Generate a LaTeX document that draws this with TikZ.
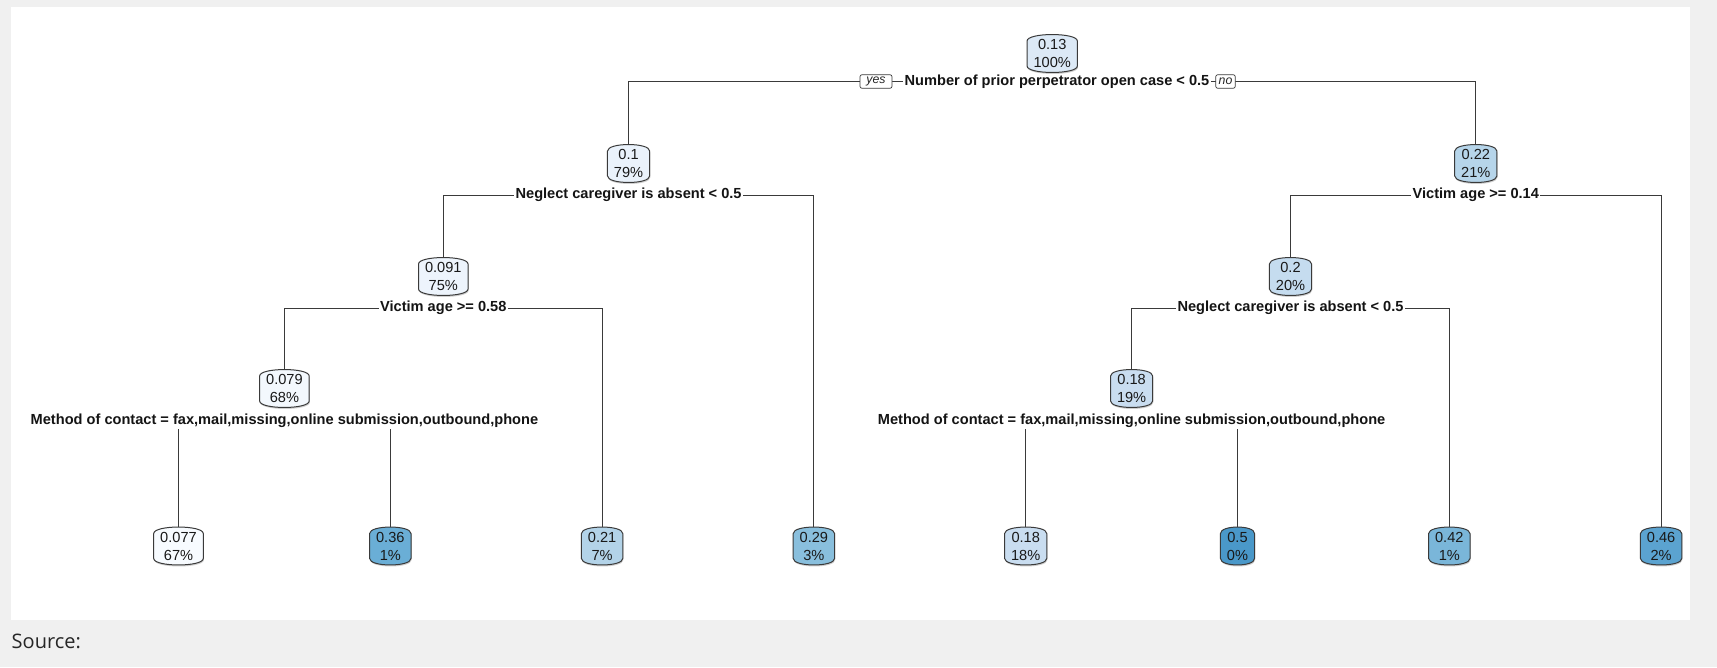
\documentclass[tikz,border=0pt]{standalone}
\usepackage{fontspec}
\setmainfont{Liberation Sans}
\newfontfamily\captionfont{Open Sans}
\usetikzlibrary{calc}

\pgfdeclarelayer{panel}
\pgfdeclarelayer{branches}
\pgfdeclarelayer{boxes}
\pgfsetlayers{panel,branches,boxes,main}

\definecolor{pagegray}{HTML}{F0F0F0}
\definecolor{edge}{HTML}{3A3A3A}
\definecolor{shadowgray}{HTML}{CFCFCF}
% fill colours of the tree boxes (Blues palette)
\definecolor{r1}{HTML}{DCE9F6}
\definecolor{r2}{HTML}{EAF2FB}
\definecolor{r3}{HTML}{B6D5EA}
\definecolor{r4}{HTML}{EDF4FC}
\definecolor{r5}{HTML}{C5DCEF}
\definecolor{r6}{HTML}{F3F8FD}
\definecolor{r7}{HTML}{C9DDF0}
\definecolor{c1}{HTML}{F7FBFF}
\definecolor{c2}{HTML}{6AAED6}
\definecolor{c3}{HTML}{B3D3E8}
\definecolor{c4}{HTML}{89BFDD}
\definecolor{c5}{HTML}{C9DDF0}
\definecolor{c6}{HTML}{4A98C9}
\definecolor{c7}{HTML}{7AB6D9}
\definecolor{c8}{HTML}{5BA3D0}

\tikzset{
  boxtxt/.style={inner xsep=6.3pt, inner ysep=0pt, minimum height=34.5pt,
    align=center, font=\fontsize{14.6}{18}\selectfont, text=black!90},
  splitlab/.style={fill=white, inner xsep=1.5pt, inner ysep=1pt,
    font=\fontsize{14.6}{17}\selectfont\bfseries, text=black!92},
  yesno/.style={draw=edge, fill=white, rounded corners=2pt, line width=0.7pt,
    inner xsep=0pt, inner ysep=0pt, minimum height=13.5pt,
    font=\fontsize{12.3}{13}\selectfont\itshape, text=black!85},
  branch/.style={draw=edge, line width=1pt},
  boxedge/.style={draw=edge, line width=1pt},
}

% barrel-shaped box: text node plus its outline, fill and soft shadow
\newcommand\treebox[5]{%
  \node[boxtxt] (#1) at (#2,#3) {#5};
  \begin{pgfonlayer}{boxes}
    \fill[shadowgray]
      ($(#1.north west)+(0.6,6.5)$) .. controls ($(#1.north west)+(0.6,-2.2)$) and ($(#1.north east)+(0.6,-2.2)$) .. ($(#1.north east)+(0.6,6.5)$)
      -- ($(#1.south east)+(0.6,-3.5)$) .. controls ($(#1.south east)+(0.6,5.2)$) and ($(#1.south west)+(0.6,5.2)$) .. ($(#1.south west)+(0.6,-3.5)$) -- cycle;
    \draw[boxedge, fill=#4]
      ($(#1.north west)+(0,5)$) .. controls ($(#1.north west)+(0,-3.7)$) and ($(#1.north east)+(0,-3.7)$) .. ($(#1.north east)+(0,5)$)
      -- ($(#1.south east)+(0,-5)$) .. controls ($(#1.south east)+(0,3.7)$) and ($(#1.south west)+(0,3.7)$) .. ($(#1.south west)+(0,-5)$) -- cycle;
  \end{pgfonlayer}}

\begin{document}
\begin{tikzpicture}[x=1pt, y=-1pt]
\useasboundingbox (0,0) rectangle (1717,667);

\begin{pgfonlayer}{panel}
  \fill[pagegray] (0,0) rectangle (1717,667);
  \fill[white] (11,7) rectangle (1690,620);
\end{pgfonlayer}

% inner nodes
\treebox{n1}{1052.2}{53.5}{r1}{0.13\\100\%}
\treebox{n2}{628.6}{163.5}{r2}{0.1\\79\%}
\treebox{n3}{1475.8}{163.5}{r3}{0.22\\21\%}
\treebox{n4}{443.3}{276.5}{r4}{0.091\\75\%}
\treebox{n5}{1290.5}{276.5}{r5}{0.2\\20\%}
\treebox{n6}{284.4}{388.5}{r6}{0.079\\68\%}
\treebox{n7}{1131.6}{388.5}{r7}{0.18\\19\%}

% leaves
\treebox{l1}{178.5}{546}{c1}{0.077\\67\%}
\treebox{l2}{390.3}{546}{c2}{0.36\\1\%}
\treebox{l3}{602.1}{546}{c3}{0.21\\7\%}
\treebox{l4}{813.9}{546}{c4}{0.29\\3\%}
\treebox{l5}{1025.7}{546}{c5}{0.18\\18\%}
\treebox{l6}{1237.5}{546}{c6}{0.5\\0\%}
\treebox{l7}{1449.3}{546}{c7}{0.42\\1\%}
\treebox{l8}{1661.1}{546}{c8}{0.46\\2\%}

% split rules
\node[splitlab] (s1) at (1057,81.5) {Number of prior perpetrator open case < 0.5};
\node[splitlab] (s2) at (628.6,195) {Neglect caregiver is absent < 0.5};
\node[splitlab] (s3) at (1475.8,195) {Victim age >= 0.14};
\node[splitlab] (s4) at (443.3,308) {Victim age >= 0.58};
\node[splitlab] (s5) at (1290.5,308) {Neglect caregiver is absent < 0.5};
\node[splitlab] (s6) at (284.4,421) {Method of contact = fax,mail,missing,online submission,outbound,phone};
\node[splitlab] (s7) at (1131.6,421) {Method of contact = fax,mail,missing,online submission,outbound,phone};

\node[yesno, minimum width=32pt] (yes) at (876,81.5) {yes};
\node[yesno, minimum width=19.5pt] (no) at (1225.5,81.5) {no};

% branches
\begin{pgfonlayer}{branches}
  \draw[branch] (s1.center) -| (n2.north);
  \draw[branch] (s1.center) -| (n3.north);
  \draw[branch] (s2.center) -| (n4.north);
  \draw[branch] (s2.center) -| (l4.north);
  \draw[branch] (s3.center) -| (n5.north);
  \draw[branch] (s3.center) -| (l8.north);
  \draw[branch] (s4.center) -| (n6.north);
  \draw[branch] (s4.center) -| (l3.north);
  \draw[branch] (s5.center) -| (n7.north);
  \draw[branch] (s5.center) -| (l7.north);
  \draw[branch] (s6.center) -| (l1.north);
  \draw[branch] (s6.center) -| (l2.north);
  \draw[branch] (s7.center) -| (l5.north);
  \draw[branch] (s7.center) -| (l6.north);
\end{pgfonlayer}

\node[anchor=base west, inner sep=0pt, text=black!85,
  font=\captionfont\fontsize{20}{24}\selectfont] (src) at (11.5,648) {Source:};
\end{tikzpicture}
\end{document}
